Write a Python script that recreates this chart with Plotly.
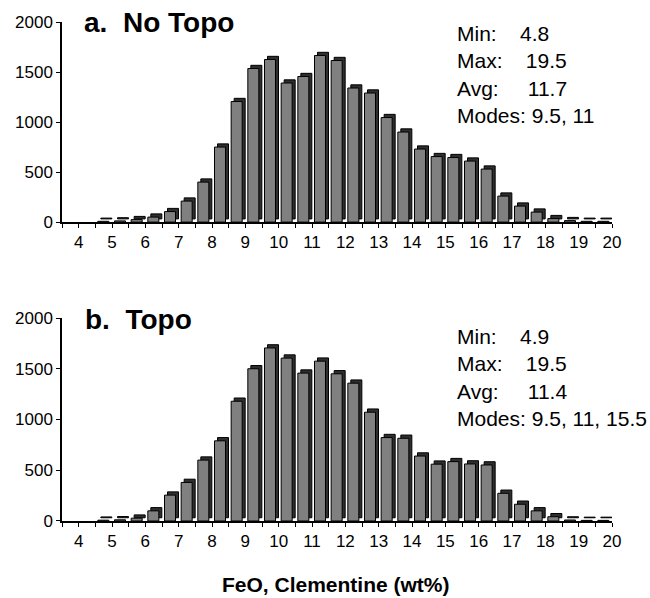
import plotly.graph_objects as go

# ---- data ----
fe_bins = [4.75, 5.25, 5.75, 6.25, 6.75, 7.25, 7.75, 8.25, 8.75, 9.25, 9.75,
           10.25, 10.75, 11.25, 11.75, 12.25, 12.75, 13.25, 13.75, 14.25, 14.75,
           15.25, 15.75, 16.25, 16.75, 17.25, 17.75, 18.25, 18.75, 19.25, 19.75]

counts_no_topo = [8, 12, 25, 50, 105, 210, 400, 750, 1205, 1535, 1625,
                  1390, 1455, 1665, 1615, 1340, 1290, 1045, 900, 730, 655,
                  645, 610, 530, 260, 160, 100, 35, 15, 8, 8]

counts_topo = [8, 12, 28, 100, 255, 380, 600, 790, 1180, 1500, 1705,
               1605, 1457, 1575, 1450, 1358, 1072, 822, 815, 640, 560,
               585, 562, 552, 273, 165, 100, 42, 10, 6, 6]

x_tick_vals = [4, 5, 6, 7, 8, 9, 10, 11, 12, 13, 14, 15, 16, 17, 18, 19, 20]
x_tick_text = ["4", "5", "6", "7", "8", "9", "10", "11", "12", "13", "14",
               "15", "16", "17", "18", "19", "20"]
y_tick_vals = [0, 500, 1000, 1500, 2000]

panel_titles = ["a.\u00a0\u00a0No Topo", "b.\u00a0\u00a0Topo"]
stats_no_topo = ["Min:\u00a0\u00a0\u00a0\u00a04.8",
                 "Max:\u00a0\u00a0\u00a0\u00a019.5",
                 "Avg:\u00a0\u00a0\u00a0\u00a0\u00a011.7",
                 "Modes: 9.5, 11"]
stats_topo = ["Min:\u00a0\u00a0\u00a0\u00a04.9",
              "Max:\u00a0\u00a0\u00a0\u00a019.5",
              "Avg:\u00a0\u00a0\u00a0\u00a0\u00a011.4",
              "Modes: 9.5, 11, 15.5"]
x_title = "FeO, Clementine (wt%)"

# ---- style ----
FONT = "Liberation Sans, Arial, Helvetica, sans-serif"
FRONT = "#808080"
SIDE = "#2e2e2e"
BAR_W = 0.33
SHIFT = 32  # depth shift in data units (~3 px)

fig = go.Figure()

panels = [
    (counts_no_topo, "x", "y", "y3"),
    (counts_topo, "x2", "y2", "y4"),
]
for counts, xa, ya_shadow, ya_front in panels:
    # dark back/side face of the pseudo-3D bar
    fig.add_trace(go.Bar(x=fe_bins, y=counts, offset=-0.085, width=BAR_W,
                         marker=dict(color=SIDE, line=dict(color="black", width=1)),
                         xaxis=xa, yaxis=ya_shadow, showlegend=False, hoverinfo="skip"))
    # grey front face
    fig.add_trace(go.Bar(x=fe_bins, y=counts, offset=-0.175, width=BAR_W,
                         marker=dict(color=FRONT, line=dict(color="black", width=1)),
                         xaxis=xa, yaxis=ya_front, showlegend=False))

dom_a = [0.599, 1.0]
dom_b = [0.0, 0.4068]

xcommon = dict(range=[3.5, 20.0], tickmode="array", tickvals=x_tick_vals,
               ticktext=x_tick_text, ticks="outside", ticklen=4, tickwidth=1,
               tickcolor="black", showline=True, linewidth=2, linecolor="black",
               showgrid=False, zeroline=False, tickfont=dict(size=17),
               minor=dict(tick0=3.5, dtick=0.5, ticks="outside", ticklen=4,
                          tickwidth=1, tickcolor="black", showgrid=False))
yhidden = dict(range=[-SHIFT, 2000 - SHIFT], visible=False, showgrid=False,
               zeroline=False)
yvisible = dict(range=[0, 2000], tickmode="array", tickvals=y_tick_vals,
                ticks="outside", ticklen=4, tickwidth=1, tickcolor="black",
                showline=True, linewidth=1.5, linecolor="black", showgrid=False,
                zeroline=False, tickfont=dict(size=17), side="left")

fig.update_layout(
    width=650, height=598,
    margin=dict(l=62, r=38, t=22, b=77),
    paper_bgcolor="white", plot_bgcolor="white",
    font=dict(family=FONT, size=17, color="black"),
    barmode="overlay",
    xaxis=dict(domain=[0, 1], anchor="y", **xcommon),
    xaxis2=dict(domain=[0, 1], anchor="y2", **xcommon),
    yaxis=dict(domain=dom_a, anchor="x", **yhidden),
    yaxis2=dict(domain=dom_b, anchor="x2", **yhidden),
    yaxis3=dict(overlaying="y", anchor="x", **yvisible),
    yaxis4=dict(overlaying="y2", anchor="x2", **yvisible),
)

ann = []
ann.append(dict(text="<b>" + panel_titles[0] + "</b>", xref="paper", yref="paper",
                x=0.036, y=1.0, xanchor="left", yanchor="middle",
                showarrow=False, font=dict(size=28)))
ann.append(dict(text="<b>" + panel_titles[1] + "</b>", xref="paper", yref="paper",
                x=0.038, y=0.403, xanchor="left", yanchor="middle",
                showarrow=False, font=dict(size=28)))
ann.append(dict(text="<br>".join(stats_no_topo), xref="paper", yref="paper",
                x=0.714, y=0.894, xanchor="left", yanchor="middle", align="left",
                showarrow=False, font=dict(size=21)))
ann.append(dict(text="<br>".join(stats_topo), xref="paper", yref="paper",
                x=0.714, y=0.287, xanchor="left", yanchor="middle", align="left",
                showarrow=False, font=dict(size=21)))
ann.append(dict(text="<b>" + x_title + "</b>", xref="paper", yref="paper",
                x=0.498, y=-0.128, xanchor="center", yanchor="middle",
                showarrow=False, font=dict(size=21)))
fig.update_layout(annotations=ann)

fig.write_html("out.html",
               config={"displayModeBar": False},
               post_script="document.body.style.margin='0';"
                           "document.body.style.padding='0';")
